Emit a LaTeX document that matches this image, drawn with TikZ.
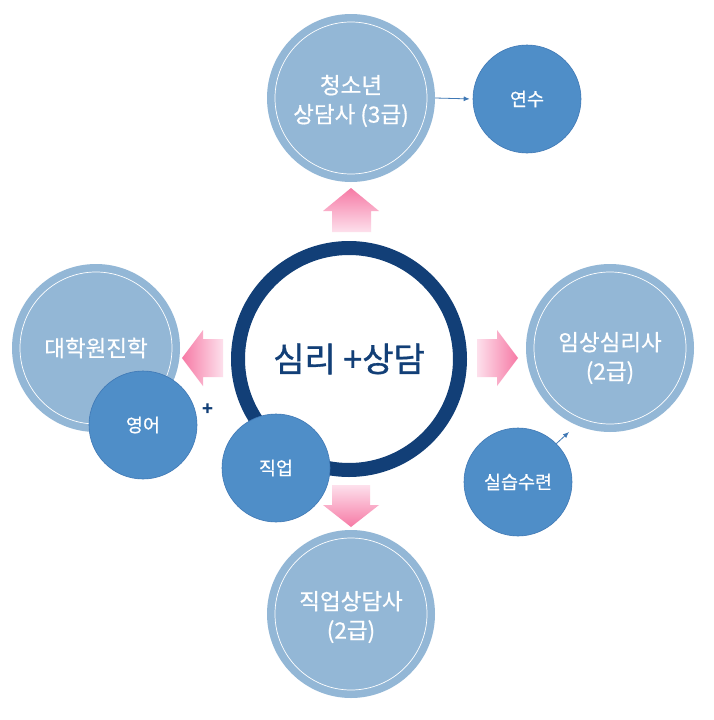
\documentclass[tikz,border=0pt]{standalone}
\usepackage{fontspec}
\setmainfont{Noto Sans CJK KR}
\newfontfamily\semibold[FakeBold=0.6]{Noto Sans CJK KR}
\newfontfamily\centrefont[FakeBold=1.0]{Noto Sans CJK KR}
\usetikzlibrary{arrows.meta}
\definecolor{bigfill}{HTML}{93B7D6}
\definecolor{smallfill}{HTML}{4F8EC8}
\definecolor{smallline}{HTML}{3F78B5}
\definecolor{navy}{HTML}{123F77}
\definecolor{pinkdark}{HTML}{F67AA5}
\definecolor{pinklight}{HTML}{FDE0EC}
\begin{document}
\begin{tikzpicture}[x=1pt,y=-1pt,
  bigc/.style={circle, fill=bigfill, minimum size=168pt, inner sep=0pt},
  innerring/.style={draw=white, line width=0.7pt},
  smallc/.style={circle, fill=smallfill, draw=smallline, line width=0.6pt, minimum size=108pt, inner sep=0pt, text=white, font=\semibold\fontsize{18.5}{22}\selectfont},
  bigtxt/.style={text=white, font=\semibold\fontsize{22.5}{29}\selectfont, align=center, inner sep=0pt},
  ringc/.style={circle, draw=navy, line width=14pt, minimum size=222pt, inner sep=0pt, text=navy, font=\centrefont\fontsize{34}{34}\selectfont},
  conn/.style={draw=smallline, line width=0.8pt, -{Latex[length=6pt,width=5pt]}},
]
\useasboundingbox (0,0) rectangle (714,720);
\fill[white] (0,0) rectangle (714,720);

% big circles
\node[bigc] (youth) at (351,98) {};
\node[bigc] (grad) at (96,348) {};
\node[bigc] (clinical) at (610,348) {};
\node[bigc] (jobc) at (351,614) {};
\foreach \n in {youth,grad,clinical,jobc}
  \draw[innerring] (\n.center) circle[radius=76pt];
\node[bigtxt] (youtht) at (351,101) {청소년\\상담사 (3급)};
\node[bigtxt] (gradt) at (96,348) {대학원진학};
\node[bigtxt] (clinicalt) at (610,358) {임상심리사\\(2급)};
\node[bigtxt] (jobct) at (351,617) {직업상담사\\(2급)};

% pink arrows
\shade[top color=pinkdark, bottom color=pinklight]
  (332,232) -- (332,211) -- (323,211) -- (351,188) -- (379,211) -- (371,211) -- (371,232) -- cycle;
\shade[top color=pinklight, bottom color=pinkdark]
  (332,485) -- (332,505) -- (323,505) -- (351,527) -- (379,505) -- (370,505) -- (370,485) -- cycle;
\shade[left color=pinkdark, right color=pinklight]
  (223,339) -- (203,339) -- (203,330) -- (182,358) -- (203,386) -- (203,377) -- (223,377) -- cycle;
\shade[left color=pinklight, right color=pinkdark]
  (477,339) -- (497,339) -- (497,330) -- (518,358) -- (497,386) -- (497,377) -- (477,377) -- cycle;

% centre ring
\node[ringc] (core) at (349,359) {심리 +상담};

% small circles
\node[smallc] (train) at (527,99) {연수};
\node[smallc] (english) at (143,425) {영어};
\node[smallc] (job) at (276,468) {직업};
\node[smallc] (practice) at (518,482) {실습수련};

\node[text=navy, font=\fontsize{18}{18}\selectfont\bfseries, inner sep=0pt] (plus) at (208,410) {+};

% connectors
\draw[conn, shorten >=3pt] (youth.east) -- (train.west);
\coordinate (ptip) at (569,432);
\draw[conn] (practice.45) -- (ptip);
\end{tikzpicture}
\end{document}
